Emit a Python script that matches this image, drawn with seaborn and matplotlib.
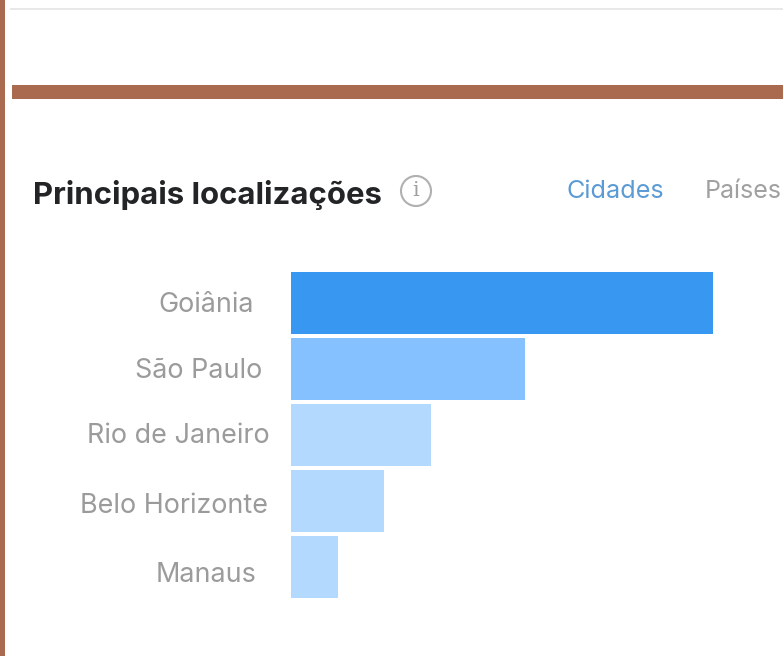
"""
plot.py
Purpose : Recreate the "Principais localizações" horizontal bar card.
"""

import matplotlib
matplotlib.use("Agg")   # headless
import matplotlib.pyplot as plt
import matplotlib.transforms as mtransforms
from matplotlib.patches import Circle, Rectangle
import pandas as pd
import seaborn as sns

# ── Data ───────────────────────────────────────────────────────────────────
cities = ["Goiânia", "São Paulo", "Rio de Janeiro", "Belo Horizonte", "Manaus"]
shares = [100.0, 55.5, 33.2, 22.1, 11.1]

BAR_COLORS = ["#3897F0", "#85C1FF", "#B3D9FF", "#B3D9FF", "#B3D9FF"]

# label nudges in px (the labels in the screenshot are not aligned)
LABEL_DX = [-15, -7, 1, -1, -12]
LABEL_DY = [-1, -1, -2, 2, 5]

W, H = 783, 656
BROWN = "#A96A50"


def px_x(x):
    return x / W


def px_y(y):
    return 1 - y / H


def add_rect(fig, x0, y0, x1, y1, color):
    fig.add_artist(Rectangle((px_x(x0), px_y(y1)), (x1 - x0) / W, (y1 - y0) / H,
                             transform=fig.transFigure, facecolor=color,
                             edgecolor="none"))


sns.set_theme(style="white")
plt.rcParams["font.family"] = ["Inter", "DejaVu Sans"]

fig = plt.figure(figsize=(W / 100, H / 100), dpi=100, facecolor="white")

# axes box follows the bars: x 291..713, y 270..600
ax = fig.add_axes([px_x(291), px_y(600), 422 / W, 330 / H])

df = pd.DataFrame({"city": cities, "share": shares})
sns.barplot(data=df, x="share", y="city", hue="city", palette=BAR_COLORS,
            legend=False, width=0.94, saturation=1, linewidth=0, ax=ax)
ax.set_xlim(0, 100)
ax.set_xlabel("")
ax.set_ylabel("")
ax.set_xticks([])
sns.despine(ax=ax, left=True, bottom=True)
ax.tick_params(axis="y", length=0, pad=16)

for lab, dx, dy in zip(ax.get_yticklabels(), LABEL_DX, LABEL_DY):
    lab.set_fontsize(19.4)
    lab.set_color("#9B9B9B")
    shift = mtransforms.Affine2D().translate(dx, -dy)
    lab.set_transform(lab.get_transform() + shift)

# ── Page decoration ────────────────────────────────────────────────────────
add_rect(fig, 0, 0, 5, H, BROWN)
add_rect(fig, 12, 85, W, 99, BROWN)
add_rect(fig, 10, 8, W, 9.5, "#E8E8E8")

# ── Header ─────────────────────────────────────────────────────────────────
fig.text(px_x(33), px_y(195), "Principais localizações", fontsize=22.4,
         fontweight="bold", color="#222426", ha="left", va="center")
fig.text(px_x(567), px_y(191), "Cidades", fontsize=18.2, color="#5B9BD5",
         ha="left", va="center")
fig.text(px_x(705), px_y(191), "Países", fontsize=18, color="#A0A0A0",
         ha="left", va="center")

# info icon, drawn in pixel coordinates
fig.add_artist(Circle((416, H - 191), 15, transform=None, facecolor="none",
                      edgecolor="#B0B0B0", linewidth=1.5))
fig.text(px_x(416), px_y(191), "i", fontsize=15, color="#A0A0A0",
         family="DejaVu Serif", ha="center", va="center")

fig.savefig("out.png", dpi=100)
